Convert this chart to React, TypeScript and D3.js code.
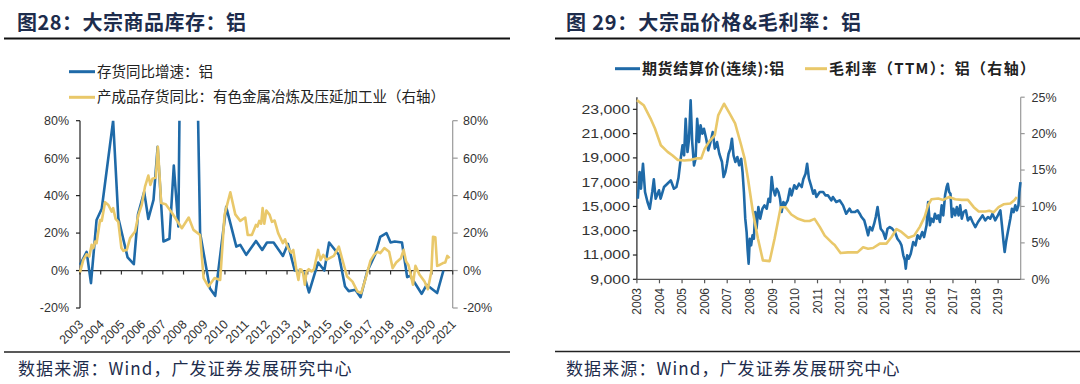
import React from 'react';
import * as d3 from 'd3';

// ---------- Left chart: inventory YoY ----------
const invDates = [2003.0, 2003.32, 2003.53, 2003.8, 2004.05, 2004.6, 2004.85, 2005.3, 2005.6, 2005.8, 2006.1, 2006.3, 2006.55, 2006.75, 2007.03, 2007.32, 2007.53, 2007.75, 2007.95, 2008.45, 2008.8, 2009.27, 2009.53, 2010.06, 2010.55, 2010.74, 2011.03, 2011.5, 2011.8, 2012.03, 2012.35, 2012.8, 2013.04, 2013.37, 2013.77, 2014.06, 2014.5, 2014.8, 2015.03, 2015.5, 2015.8, 2015.98, 2016.3, 2016.55, 2016.87, 2017.25, 2017.5, 2017.8, 2018.0, 2018.2, 2018.55, 2018.8, 2018.95, 2019.5, 2019.74, 2020.25, 2020.55];
const invValues = [3, 10, -6.7, 27, 33, 80, 28, 7, 3.4, 30, 42, 27.5, 37.7, 66, 15.5, 17, 56, 23.5, 240, 240, 20, -9.4, -13.5, 34, 12.8, 13.7, 8.4, 15.8, 11, 15, 15, 7.8, 14.2, 0, -0.5, -11.7, 4.3, 0, 15, 8.4, -8.5, -11, -10.3, -14.2, -0.5, 8.4, 18, 20, 15, 15.5, 15, -3.5, -2.8, -12.4, -7.6, -12, 0];

const fgDates = [2003.0, 2003.16, 2003.32, 2003.45, 2003.56, 2003.64, 2003.73, 2003.8, 2003.97, 2004.05, 2004.21, 2004.37, 2004.53, 2004.6, 2004.72, 2004.85, 2005.0, 2005.1, 2005.26, 2005.42, 2005.66, 2005.82, 2005.98, 2006.14, 2006.3, 2006.4, 2006.5, 2006.66, 2006.76, 2006.92, 2007.14, 2007.43, 2007.92, 2008.25, 2008.48, 2008.8, 2008.97, 2009.2, 2009.5, 2009.77, 2009.98, 2010.26, 2010.5, 2010.74, 2010.98, 2011.1, 2011.3, 2011.5, 2011.57, 2011.66, 2011.75, 2011.82, 2011.9, 2012.0, 2012.16, 2012.27, 2012.4, 2012.57, 2012.8, 2012.9, 2013.05, 2013.2, 2013.3, 2013.45, 2013.55, 2013.62, 2013.7, 2013.77, 2013.86, 2013.94, 2014.05, 2014.18, 2014.3, 2014.5, 2014.62, 2014.75, 2014.9, 2015.26, 2015.5, 2015.63, 2015.83, 2015.9, 2016.16, 2016.4, 2016.58, 2016.8, 2017.03, 2017.2, 2017.37, 2017.5, 2017.7, 2017.93, 2018.1, 2018.27, 2018.5, 2018.63, 2018.75, 2018.86, 2018.96, 2019.08, 2019.2, 2019.4, 2019.64, 2019.8, 2019.97, 2020.05, 2020.16, 2020.25, 2020.37, 2020.53, 2020.64, 2020.74, 2020.85];
const fgValues = [-1, 5.7, 8.7, 7.5, 13.7, 12, 15.5, 14.6, 27, 26.5, 36.5, 35, 31.5, 33.3, 27.6, 26, 12, 10.5, 11, 17.3, 20.8, 29.7, 35, 44.8, 50.7, 45.7, 49, 49.6, 66, 36, 35.4, 31, 22.6, 28.3, 21.7, 19, -4, -8.5, -4, -5, 29.7, 41.8, 30, 26.5, 28.3, 19, 19, 24.4, 23.5, 26.5, 25, 33.3, 25, 32, 29.7, 26, 26.7, 20, 14.6, 16.7, 12, 9.6, 11, 0.4, -5, 0.7, 0.4, -1.4, -7.6, -0.5, 0.7, -0.5, 0.7, 11, 5.7, 8.4, 5.7, 7.8, 12.8, 7.5, -0.5, -3.2, -5.9, -11.2, -12, -4, 5.3, 8.4, 10, 9.3, 12, 10, 1.3, 4.3, 6.6, 11, 4.8, 3, -1.4, -7.6, 2.5, -2.3, -5.9, -10, -0.5, 18, 17.8, 2.5, 3, 4, 4.3, 7.8, 6.6];

const leftYTicks = [-20, 0, 20, 40, 60, 80];
const leftYears = d3.range(2003, 2022);

// ---------- Right chart: price & margin ----------
const priceDates = [2003.04, 2003.12, 2003.18, 2003.27, 2003.36, 2003.47, 2003.57, 2003.68, 2003.75, 2003.83, 2003.98, 2004.05, 2004.2, 2004.35, 2004.5, 2004.64, 2004.75, 2004.84, 2004.94, 2005.02, 2005.09, 2005.16, 2005.24, 2005.31, 2005.38, 2005.45, 2005.53, 2005.6, 2005.67, 2005.75, 2005.82, 2005.9, 2005.97, 2006.07, 2006.16, 2006.26, 2006.36, 2006.45, 2006.55, 2006.65, 2006.77, 2006.84, 2006.92, 2006.99, 2007.06, 2007.14, 2007.21, 2007.28, 2007.36, 2007.45, 2007.53, 2007.62, 2007.68, 2007.74, 2007.8, 2007.86, 2007.9, 2007.95, 2008.0, 2008.06, 2008.12, 2008.18, 2008.24, 2008.3, 2008.38, 2008.46, 2008.56, 2008.65, 2008.75, 2008.83, 2008.9, 2008.97, 2009.03, 2009.12, 2009.19, 2009.27, 2009.34, 2009.41, 2009.49, 2009.56, 2009.68, 2009.78, 2009.85, 2009.97, 2010.07, 2010.18, 2010.3, 2010.37, 2010.47, 2010.54, 2010.62, 2010.71, 2010.81, 2010.88, 2010.95, 2011.1, 2011.25, 2011.35, 2011.46, 2011.61, 2011.68, 2011.83, 2011.98, 2012.13, 2012.27, 2012.42, 2012.5, 2012.65, 2012.77, 2012.87, 2012.95, 2013.07, 2013.17, 2013.24, 2013.32, 2013.42, 2013.51, 2013.58, 2013.66, 2013.72, 2013.8, 2013.91, 2014.01, 2014.1, 2014.2, 2014.31, 2014.43, 2014.54, 2014.65, 2014.72, 2014.8, 2014.87, 2014.91, 2014.97, 2015.04, 2015.13, 2015.24, 2015.34, 2015.43, 2015.53, 2015.64, 2015.72, 2015.83, 2015.9, 2015.98, 2016.05, 2016.13, 2016.2, 2016.28, 2016.35, 2016.42, 2016.5, 2016.57, 2016.65, 2016.72, 2016.77, 2016.83, 2016.89, 2016.95, 2017.02, 2017.1, 2017.17, 2017.25, 2017.32, 2017.39, 2017.47, 2017.57, 2017.66, 2017.77, 2017.87, 2017.99, 2018.11, 2018.21, 2018.31, 2018.43, 2018.55, 2018.65, 2018.75, 2018.87, 2018.99, 2019.1, 2019.17, 2019.24, 2019.29, 2019.35, 2019.43, 2019.54, 2019.61, 2019.69, 2019.76, 2019.83, 2019.9, 2019.94, 2019.99];
const priceValues = [15637, 17836, 16461, 18520, 16190, 15366, 14814, 16190, 17235, 15637, 16329, 15637, 16600, 16873, 17153, 16461, 16600, 17342, 18932, 20035, 19211, 22226, 19483, 20578, 23741, 20306, 18388, 18932, 22226, 20306, 21682, 21000, 21402, 20578, 19623, 20306, 21130, 19758, 20306, 19343, 18661, 17425, 17836, 18520, 19343, 19758, 20578, 19211, 18661, 19071, 18388, 18932, 17836, 16190, 13994, 12895, 11520, 10285, 12343, 11800, 12623, 12343, 14542, 13167, 14954, 13994, 14814, 15090, 14814, 15637, 15366, 17425, 16461, 15912, 16461, 16190, 15637, 14542, 15366, 15090, 15500, 16461, 15912, 16741, 16461, 16873, 16600, 17235, 17700, 18520, 17290, 16741, 16050, 16329, 15775, 16190, 16190, 15912, 15917, 15506, 15780, 15366, 15506, 15090, 14402, 14814, 14542, 14542, 14680, 14402, 14130, 13855, 13167, 12623, 13300, 13030, 13580, 14130, 14954, 14130, 13167, 12895, 12343, 13167, 13300, 13167, 12895, 12343, 12070, 11795, 10976, 10564, 9873, 10976, 10700, 11112, 12070, 11795, 12623, 12343, 12895, 12480, 13447, 15366, 13447, 13994, 13720, 14402, 13994, 14267, 13720, 15090, 14267, 15917, 16600, 16873, 16190, 16050, 14130, 14814, 14267, 14954, 14267, 15090, 13994, 14542, 14680, 13855, 14130, 13720, 13300, 13720, 13994, 14267, 13855, 14130, 13994, 14402, 13855, 14267, 14680, 13447, 12070, 11248, 12070, 12895, 13994, 14814, 14542, 15090, 14680, 15090, 16190, 17013];

const marginDates = [2003.0, 2003.3, 2003.6, 2003.8, 2004.06, 2004.36, 2004.58, 2004.8, 2005.1, 2005.4, 2005.63, 2005.85, 2006.0, 2006.2, 2006.45, 2006.6, 2006.86, 2007.1, 2007.35, 2007.62, 2007.77, 2007.92, 2008.14, 2008.36, 2008.58, 2008.88, 2009.1, 2009.37, 2009.58, 2009.84, 2010.14, 2010.43, 2010.65, 2010.87, 2011.1, 2011.32, 2011.68, 2011.76, 2012.02, 2012.35, 2012.77, 2013.02, 2013.24, 2013.46, 2013.76, 2014.05, 2014.28, 2014.5, 2014.72, 2015.02, 2015.28, 2015.53, 2015.75, 2015.9, 2016.05, 2016.35, 2016.57, 2016.83, 2017.1, 2017.39, 2017.66, 2017.92, 2018.14, 2018.43, 2018.61, 2018.8, 2019.02, 2019.24, 2019.54, 2019.73, 2019.83];
const marginValues = [24.6, 23.9, 22.1, 20.7, 18.4, 17.5, 17.0, 16.4, 16.3, 16.4, 16.6, 16.6, 17.9, 18.9, 19.8, 22.5, 24.1, 22.8, 21.4, 18.4, 16.6, 13.8, 9.2, 5.6, 2.6, 2.5, 5.6, 9.9, 9.9, 8.9, 8.3, 8.0, 8.0, 8.3, 7.2, 6.0, 4.9, 4.7, 3.6, 3.7, 3.7, 4.4, 4.2, 4.3, 4.9, 4.9, 5.8, 6.9, 6.5, 5.7, 6.0, 7.2, 8.6, 10.2, 11.0, 11.1, 10.9, 11.3, 11.0, 10.9, 10.9, 9.9, 9.3, 9.3, 9.4, 9.2, 9.9, 10.3, 10.4, 10.9, 11.3];

const priceTicks = [9000, 11000, 13000, 15000, 17000, 19000, 21000, 23000];
const marginTicks = [0, 5, 10, 15, 20, 25];
const rightYears = d3.range(2003, 2020);

const BLUE = '#1f6aa8';
const GOLD = '#e9c86a';
const CJK = '"Noto Sans CJK SC", "Noto Sans", sans-serif';
const NUM = '"Liberation Sans", Arial, sans-serif';
const TITLE = '#1d2c4c';

function zip(a: number[], b: number[]): [number, number][] {
  return a.map((d, i) => [d, b[i]] as [number, number]);
}

export default function App() {
  // left chart scales
  const xL = d3.scaleLinear().domain([2003, 2021]).range([80, 452.7]);
  const yL = d3.scaleLinear().domain([-20, 80]).range([308, 120.7]);
  const lineL = d3.line<[number, number]>().x(d => xL(d[0])).y(d => yL(d[1]));

  // right chart scales
  const xR = d3.scaleLinear().domain([2003, 2020]).range([636.9, 1020.7]);
  const yP = d3.scaleLinear().domain([9000, 24000]).range([279.3, 97.2]);
  const yM = d3.scaleLinear().domain([0, 25]).range([279.3, 97.2]);
  const lineP = d3.line<[number, number]>().x(d => xR(d[0])).y(d => yP(d[1]));
  const lineM = d3.line<[number, number]>().x(d => xR(d[0])).y(d => yM(d[1]));

  const fmt = d3.format(',');

  return (
    <svg width={1080} height={384} viewBox="0 0 1080 384"
      style={{ position: 'absolute', left: 0, top: 0, background: '#fff' }}>
      <defs>
        <clipPath id="clipL">
          <rect x={xL(2003) - 2} y={yL(80)} width={xL(2021) - xL(2003) + 4} height={yL(-20) - yL(80) + 2} />
        </clipPath>
      </defs>
      <rect x={0} y={0} width={1080} height={384} fill="#fff" />

      {/* ---------- Titles ---------- */}
      <text x={17} y={30} fontFamily={CJK} fontWeight={700} fontSize={20} letterSpacing={0.5} fill={TITLE}>图28：大宗商品库存：铝</text>
      <line x1={4} x2={510} y1={38.5} y2={38.5} stroke="#111" strokeWidth={2} />
      <text x={566} y={30} fontFamily={CJK} fontWeight={700} fontSize={20} letterSpacing={0.8} fill={TITLE}>图 29：大宗品价格&amp;毛利率：铝</text>
      <line x1={555} x2={1080} y1={38.5} y2={38.5} stroke="#111" strokeWidth={2} />

      {/* ---------- Left legend ---------- */}
      <line x1={69} x2={95} y1={71.7} y2={71.7} stroke={BLUE} strokeWidth={3} />
      <text x={97} y={71.7} dy="0.35em" fontFamily={CJK} fontSize={14.5} fill="#222">存货同比增速：铝</text>
      <line x1={69} x2={95} y1={97.3} y2={97.3} stroke={GOLD} strokeWidth={3} />
      <text x={97} y={97.3} dy="0.35em" fontFamily={CJK} fontSize={14.5} fill="#222">产成品存货同比：有色金属冶炼及压延加工业（右轴）</text>

      {/* ---------- Left chart axes ---------- */}
      <line x1={xL(2003)} x2={xL(2003)} y1={yL(80)} y2={yL(-20)} stroke="#222" strokeWidth={1.2} />
      {leftYTicks.map(t => (
        <g key={'ly' + t}>
          <line x1={xL(2003) - 4} x2={xL(2003)} y1={yL(t)} y2={yL(t)} stroke="#222" strokeWidth={1.2} />
          <text x={69} y={yL(t)} dy="0.35em" textAnchor="end" fontFamily={NUM} fontSize={12.5} fill="#333">{t}%</text>
        </g>
      ))}
      <line x1={xL(2021)} x2={xL(2021)} y1={yL(80)} y2={yL(-20)} stroke="#999" strokeWidth={1.2} />
      {leftYTicks.map(t => (
        <g key={'ry' + t}>
          <line x1={xL(2021)} x2={xL(2021) + 5} y1={yL(t)} y2={yL(t)} stroke="#999" strokeWidth={1.2} />
          <text x={463} y={yL(t)} dy="0.35em" textAnchor="start" fontFamily={NUM} fontSize={12.5} fill="#333">{t}%</text>
        </g>
      ))}
      <line x1={xL(2003)} x2={xL(2021)} y1={yL(0)} y2={yL(0)} stroke="#333" strokeWidth={1.3} />
      {leftYears.map(yr => (
        <g key={'lx' + yr}>
          <line x1={xL(yr)} x2={xL(yr)} y1={yL(0)} y2={yL(0) + 4} stroke="#333" strokeWidth={1.2} />
          <text transform={`translate(${xL(yr) + 1},${322}) rotate(-45)`} textAnchor="end" dy="0.35em"
            fontFamily={NUM} fontSize={12.5} fill="#333">{yr}</text>
        </g>
      ))}

      {/* ---------- Left chart lines ---------- */}
      <g clipPath="url(#clipL)">
        <path d={lineL(zip(invDates, invValues)) || ''} fill="none" stroke={BLUE} strokeWidth={2.6} strokeLinejoin="round" />
        <path d={lineL(zip(fgDates, fgValues)) || ''} fill="none" stroke={GOLD} strokeWidth={2.6} strokeLinejoin="round" />
      </g>

      {/* ---------- Right legend ---------- */}
      <line x1={615} x2={640} y1={68.7} y2={68.7} stroke={BLUE} strokeWidth={3} />
      <text x={642} y={68.7} dy="0.35em" fontFamily={CJK} fontWeight={600} fontSize={15} letterSpacing={0.6} fill="#222">期货结算价(连续):铝</text>
      <line x1={805} x2={827} y1={68.7} y2={68.7} stroke={GOLD} strokeWidth={3} />
      <text x={829} y={68.7} dy="0.35em" fontFamily={CJK} fontWeight={600} fontSize={15} letterSpacing={1.3} fill="#222">毛利率（TTM）：铝（右轴）</text>

      {/* ---------- Right chart axes ---------- */}
      <line x1={xR(2003)} x2={xR(2003)} y1={yP(24000)} y2={yP(9000)} stroke="#222" strokeWidth={1.2} />
      {priceTicks.map(t => (
        <g key={'py' + t}>
          <line x1={xR(2003) - 4} x2={xR(2003)} y1={yP(t)} y2={yP(t)} stroke="#222" strokeWidth={1.2} />
          <g transform={`translate(630,${yP(t)}) scale(1.27,1)`}>
            <text x={0} y={0} dy="0.35em" textAnchor="end" fontFamily={NUM} fontSize={12.5} fill="#333">{fmt(t)}</text>
          </g>
        </g>
      ))}
      <line x1={xR(2020)} x2={xR(2020)} y1={yM(25)} y2={yM(0)} stroke="#999" strokeWidth={1.2} />
      {marginTicks.map(t => (
        <g key={'my' + t}>
          <line x1={xR(2020)} x2={xR(2020) + 4} y1={yM(t)} y2={yM(t)} stroke="#999" strokeWidth={1.2} />
          <text x={1031.5} y={yM(t)} dy="0.35em" textAnchor="start" fontFamily={NUM} fontSize={12.5} fill="#333">{t}%</text>
        </g>
      ))}
      <line x1={xR(2003)} x2={xR(2020)} y1={yP(9000)} y2={yP(9000)} stroke="#555" strokeWidth={1.3} />
      {rightYears.map(yr => (
        <g key={'rx' + yr}>
          <line x1={xR(yr)} x2={xR(yr)} y1={yP(9000)} y2={yP(9000) + 4} stroke="#555" strokeWidth={1.2} />
          <text transform={`translate(${xR(yr)},${288}) rotate(-90)`} textAnchor="end" dy="0.35em"
            fontFamily={NUM} fontSize={12} fill="#333">{yr}</text>
        </g>
      ))}

      {/* ---------- Right chart lines ---------- */}
      <path d={lineP(zip(priceDates, priceValues)) || ''} fill="none" stroke={BLUE} strokeWidth={2.6} strokeLinejoin="round" />
      <path d={lineM(zip(marginDates, marginValues)) || ''} fill="none" stroke={GOLD} strokeWidth={2.6} strokeLinejoin="round" />

      {/* ---------- Sources ---------- */}
      <line x1={4} x2={510} y1={352} y2={352} stroke="#222" strokeWidth={1.6} />
      <text x={18} y={375} fontFamily={CJK} fontSize={17} letterSpacing={1.1} fill="#1d2c4c">数据来源：Wind，广发证券发展研究中心</text>
      <line x1={555} x2={1080} y1={351.5} y2={351.5} stroke="#222" strokeWidth={1.6} />
      <text x={566} y={375} fontFamily={CJK} fontSize={17} letterSpacing={1.1} fill="#1d2c4c">数据来源：Wind，广发证券发展研究中心</text>
    </svg>
  );
}
